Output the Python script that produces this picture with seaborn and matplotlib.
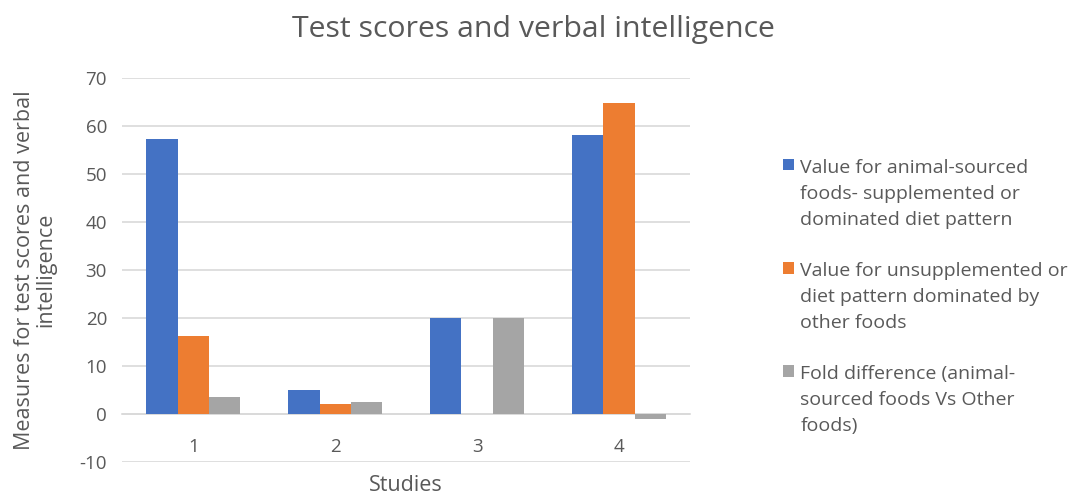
import matplotlib
matplotlib.use("Agg")
import matplotlib.pyplot as plt
import seaborn as sns
import pandas as pd

studies = ["1", "2", "3", "4"]
animal_sourced = [57.3, 5.0, 20.0, 58.1]
unsupplemented = [16.3, 2.0, 0.0, 64.8]
fold_difference = [3.5, 2.5, 20.0, -1.0]
series_names = [
    "Value for animal-sourced\nfoods- supplemented or\ndominated diet pattern",
    "Value for unsupplemented or\ndiet pattern dominated by\nother foods",
    "Fold difference (animal-\nsourced foods Vs Other\nfoods)",
]
colors = ["#4472C4", "#ED7D31", "#A5A5A5"]
y_ticks = [-10, 0, 10, 20, 30, 40, 50, 60, 70]

rows = []
for name, vals in zip(series_names, [animal_sourced, unsupplemented, fold_difference]):
    for s, v in zip(studies, vals):
        rows.append({"Study": s, "Series": name, "Value": v})
df = pd.DataFrame(rows)

sns.set_theme(style="white")
plt.rcParams["font.family"] = ["Open Sans", "DejaVu Sans"]
plt.rcParams["axes.unicode_minus"] = False
text_color = "#595959"

fig = plt.figure(figsize=(10.73, 4.95), dpi=100)
ax = fig.add_axes([0.114, 0.0667, 0.529, 0.7755])

sns.barplot(data=df, x="Study", y="Value", hue="Series", palette=colors,
            width=0.66, ax=ax, errorbar=None, saturation=1, linewidth=0)

ax.set_ylim(-10, 70)
ax.set_xlim(-0.5, 3.5)
ax.set_yticks(y_ticks)
ax.yaxis.grid(True, color="#D9D9D9", linewidth=1.2)
ax.set_axisbelow(True)
for sp in ["top", "right", "left"]:
    ax.spines[sp].set_visible(False)
ax.spines["bottom"].set_position(("data", 0))
ax.spines["bottom"].set_color("#D9D9D9")
ax.spines["bottom"].set_linewidth(1.2)
ax.spines["bottom"].set_zorder(0.5)
ax.tick_params(axis="x", length=0, pad=17, labelsize=13.5, labelcolor=text_color)
ax.tick_params(axis="y", length=0, pad=11, labelsize=13.5, labelcolor=text_color)

ax.set_xlabel("Studies", fontsize=15.5, color=text_color)
ax.xaxis.set_label_coords(0.5, -0.033)
ax.set_ylabel("Measures for test scores and verbal\nintelligence", fontsize=15.5,
              color=text_color, linespacing=1.0)
ax.yaxis.set_label_coords(-0.117, 0.5)

fig.suptitle("Test scores and verbal intelligence", fontsize=21.8, color=text_color,
             x=0.497, y=0.94, va="center")

leg = ax.legend(loc="center left", bbox_to_anchor=(0.7297, 0.40),
                bbox_transform=fig.transFigure, frameon=False, borderpad=0,
                borderaxespad=0,
                fontsize=14, labelspacing=1.7, handlelength=0.55, handleheight=0.55,
                handletextpad=0.35)
for t in leg.get_texts():
    t.set_color(text_color)
    t.set_linespacing(1.58)
for col in leg._legend_handle_box.get_children():
    for hp in col.get_children():
        hp.align = "top"

fig.savefig("out.png", dpi=100)
